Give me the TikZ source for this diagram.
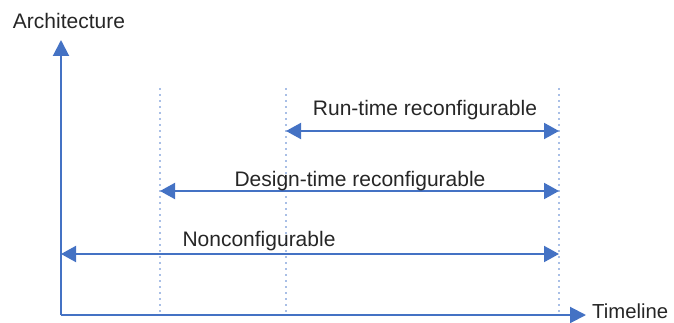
\documentclass[tikz,border=0pt]{standalone}
\usepackage{fontspec}
\setmainfont{Liberation Sans}
\usetikzlibrary{arrows.meta}
\definecolor{axblue}{HTML}{4472C4}
\definecolor{dotblue}{HTML}{A9BFE6}
\begin{document}
\begin{tikzpicture}[x=1pt,y=-1pt,
  lbl/.style={font=\fontsize{21}{25}\selectfont, text=black!85, inner sep=0pt},
  axis/.style={draw=axblue, line width=2pt, -{Triangle[length=16pt,width=16pt]}},
  span/.style={draw=axblue, line width=2pt, {Triangle[length=15pt,width=16pt]}-{Triangle[length=15pt,width=16pt]}},
  guide/.style={draw=dotblue, line width=1.6pt, dash pattern=on 2pt off 4pt}]
\useasboundingbox (0,0) rectangle (674,323);
% axes
\coordinate (o) at (61,315);
\coordinate (ytop) at (61,40);
\coordinate (xend) at (586,315);
\draw[axis] (o) -- (ytop);
\draw[axis] (o) -- (xend);
\node[lbl, anchor=center] (arch) at (69,21) {Architecture};
\node[lbl, anchor=west, font=\fontsize{20.3}{24}\selectfont] (time) at (592,311) {Timeline};
% guides
\coordinate (g1t) at (160,88); \coordinate (g1b) at (160,312);
\coordinate (g2t) at (286,88); \coordinate (g2b) at (286,312);
\coordinate (g3t) at (559,88); \coordinate (g3b) at (559,312);
\draw[guide] (g1t) -- (g1b);
\draw[guide] (g2t) -- (g2b);
\draw[guide] (g3t) -- (g3b);
% spans
\coordinate (r1) at (286,131); \coordinate (r2) at (559,131);
\coordinate (d1) at (160,191); \coordinate (d2) at (559,191);
\coordinate (n1) at (61,254); \coordinate (n2) at (559,254);
\draw[span] (r1) -- (r2);
\draw[span] (d1) -- (d2);
\draw[span] (n1) -- (n2);
\node[lbl] (rt) at (425,110) {Run-time reconfigurable};
\node[lbl] (dt) at (360,181) {Design-time reconfigurable};
\node[lbl] (nc) at (259,241) {Nonconfigurable};
\end{tikzpicture}
\end{document}
